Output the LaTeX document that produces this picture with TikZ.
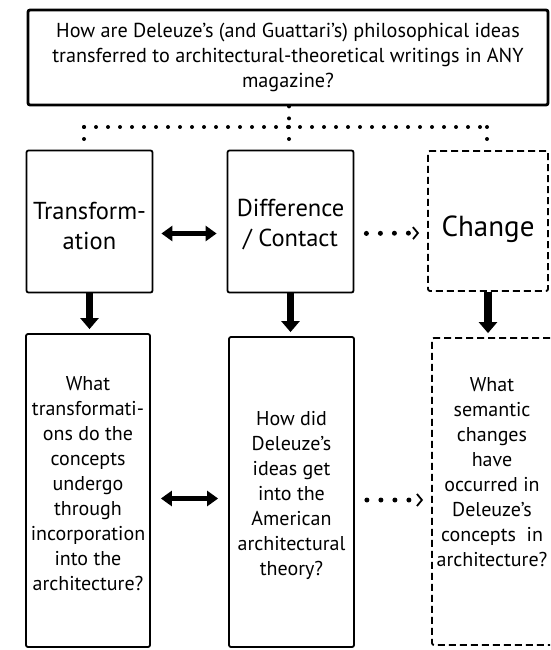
\documentclass[tikz,border=0pt]{standalone}
\usepackage{fontspec}
\setmainfont{PT Sans}
\usetikzlibrary{arrows.meta}
\pgfdeclarelayer{edgelayer}
\pgfdeclarelayer{nodelayer}
\pgfsetlayers{nodelayer,main,edgelayer}
\tikzset{
	qbox/.style={draw, line width=1.8pt, rounded corners=2pt, align=center, inner sep=0pt},
	topbox/.style={qbox, line width=2.8pt, font=\fontsize{20.2}{25}\selectfont, minimum width=520pt, minimum height=95pt},
	headbox/.style={qbox, minimum width=126pt, minimum height=142pt},
	longbox/.style={qbox, minimum width=124pt, minimum height=311pt},
	openbox/.style={dash pattern=on 7pt off 4pt},
	headtext/.style={font=\fontsize{24.5}{30}\selectfont, align=center, inner sep=0pt},
	qtext/.style={font=\fontsize{20}{25}\selectfont, align=center, inner sep=0pt},
	dotline/.style={line width=4pt, line cap=round, dash pattern=on 0pt off 12pt},
	downarrow/.style={line width=7.5pt, -{Triangle[width=18pt,length=11pt]}, shorten >=4pt},
	twoway/.style={line width=5.5pt, {Triangle[width=15pt,length=11pt]}-{Triangle[width=15pt,length=11pt]}, shorten <=8pt, shorten >=10pt},
	dotarrow/.style={line width=5pt, line cap=round, dash pattern=on 0pt off 14pt, -{Straight Barb[length=5pt,width=12pt,line width=1.8pt]}, shorten <=12pt, shorten >=8pt},
}

\begin{document}
\begin{tikzpicture}[x=1pt, y=-1pt]
	\useasboundingbox (0, 0) rectangle (550, 650);
	\begin{pgfonlayer}{nodelayer}
		\clip (0, 0) rectangle (550, 650);
		\node [topbox] (0) at (288, 57.5) {How are Deleuze's (and Guattari's) philosophical ideas\\transferred to architectural-theoretical writings in ANY\\magazine?};
		\node [headbox, label={[headtext, yshift=-4pt]center:{Transform-\\ation}}] (1) at (89.5, 221.5) {};
		\node [headbox, label={[headtext, yshift=-3pt]center:{Difference\\/ Contact}}] (2) at (290.5, 221.5) {};
		\node [headbox, openbox, minimum width=120pt, minimum height=140pt, label={[headtext, font=\fontsize{29}{30}\selectfont, yshift=-8pt]center:{Change}}] (3) at (488, 221) {};
		\node [longbox, minimum height=313pt, label={[qtext, yshift=7pt]center:{What\\transformati-\\ons do the\\concepts\\undergo\\through\\incorporation\\into the\\architecture?}}] (4) at (88, 490.5) {};
		\node [longbox, minimum width=125pt, minimum height=310pt, label={[qtext, yshift=-3pt]center:{How did\\Deleuze's\\ideas get\\into the\\American\\architectural\\theory?}}] (5) at (291.5, 492) {};
		\node [longbox, openbox, minimum width=120pt, minimum height=307pt, label={[qtext, yshift=19pt]center:{What\\semantic\\changes\\have\\occurred in\\Deleuze's\\concepts~ in\\architecture?}}] (6) at (492, 491.5) {};
		\coordinate (7) at (84, 127);
		\coordinate (8) at (289, 127);
		\coordinate (9) at (487, 127);
	\end{pgfonlayer}
	\begin{pgfonlayer}{edgelayer}
		\draw [dotline] (0.south -| 8) to (8);
		\draw [dotline] (7) to (9);
		\draw [dotline] (7) to (7 |- 1.north);
		\draw [dotline] (8) to (8 |- 2.north);
		\draw [dotline] (9) to (9 |- 3.north);
		\draw [twoway] ([yshift=-12pt]1.east) to ([yshift=-12pt]2.west);
		\draw [dotarrow] ([yshift=-12pt]2.east) to ([yshift=-12pt]3.west);
		\draw [downarrow] (1.south) to (1.south |- 4.north);
		\draw [downarrow] (2.south) to (2.south |- 5.north);
		\draw [downarrow] (3.south) to (3.south |- 6.north);
		\draw [twoway, shorten <=10pt] ([yshift=-8pt]4.east) to ([yshift=-8pt]4.east -| 5.west);
		\draw [dotarrow] ([yshift=-8pt]5.east) to ([yshift=-8pt]5.east -| 6.west);
	\end{pgfonlayer}
\end{tikzpicture}
\end{document}
